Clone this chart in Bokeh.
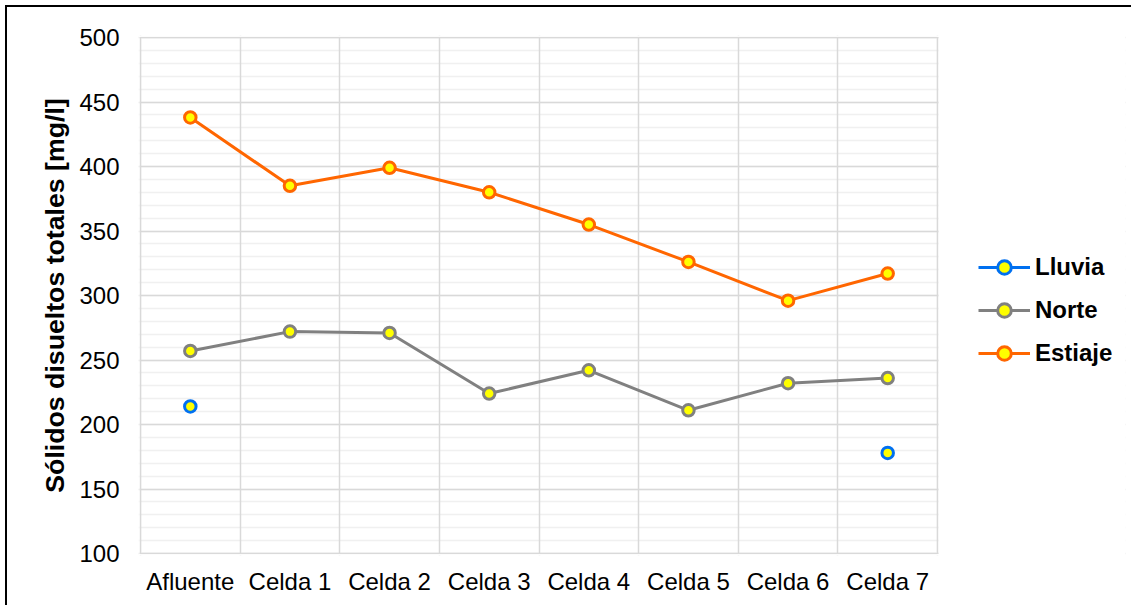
from bokeh.plotting import figure
from bokeh.models import (FixedTicker, Grid, Legend, LegendItem, ColumnDataSource, Range1d, BoxAnnotation)
from bokeh.embed import file_html
from bokeh.resources import INLINE

categories = ["Afluente", "Celda 1", "Celda 2", "Celda 3", "Celda 4", "Celda 5", "Celda 6", "Celda 7"]
estiaje = [438, 385, 399, 380, 355, 326, 296, 317]
norte = [257, 272, 271, 224, 242, 211, 232, 236]
lluvia = [214, None, None, None, None, None, None, 178]
y_ticks = [100, 150, 200, 250, 300, 350, 400, 450, 500]

n = len(categories)
xs = [i + 0.5 for i in range(n)]

OX, OY = 7, 7  # content origin on page
W, H = 1126, 600
FL, FR, FT, FB = 140, 937, 37, 553   # plot area (page px)
PAD = 2                               # frame extends a little so edge lines are not clipped
FRAME_RIGHT = 1125                    # drawing frame extends under the legend
ux = n / (FR - FL)
uy = 400 / (FB - FT)
x_start = -PAD * ux
x_end = n + (FRAME_RIGHT - FR) * ux
y0, y1 = 100 - PAD * uy, 500 + PAD * uy

p = figure(width=W, height=H, output_backend="svg", toolbar_location=None,
           x_range=Range1d(x_start, x_end), y_range=Range1d(y0, y1),
           min_border_left=FL - PAD - OX, min_border_top=FT - PAD - OY,
           min_border_bottom=H - (FB + PAD - OY), min_border_right=W - (FRAME_RIGHT - OX))
p.styles = {"margin-left": "5px", "margin-top": "5px",
            "border-left": "2px solid black", "border-top": "2px solid black"}
p.outline_line_color = None
p.background_fill_color = "white"
p.border_fill_color = "white"

# grids
p.xgrid.visible = False
p.ygrid.ticker = FixedTicker(ticks=y_ticks, minor_ticks=list(range(100, 501, 10)))
p.ygrid.grid_line_color = "#d9d9d9"
p.ygrid.grid_line_width = 1.5
p.ygrid.minor_grid_line_color = "#f0f0f0"
p.ygrid.minor_grid_line_width = 1.5
vgrid = Grid(dimension=0, ticker=FixedTicker(ticks=list(range(0, n + 1))),
             grid_line_color="#d9d9d9", grid_line_width=1.5)
p.add_layout(vgrid)
# hide grid lines outside the plot area
white = dict(fill_color="white", fill_alpha=1, line_color=None, level="underlay")
p.add_layout(BoxAnnotation(left=n + 0.01, **white))
p.add_layout(BoxAnnotation(right=-0.01, **white))
p.add_layout(BoxAnnotation(top=99.6, **white))
p.add_layout(BoxAnnotation(bottom=500.4, **white))
# plot area outline
p.add_layout(BoxAnnotation(left=0, right=n, bottom=100, top=500, fill_alpha=0,
                           line_color="#d9d9d9", line_width=1.5, level="underlay"))

# axes
p.xaxis.ticker = FixedTicker(ticks=xs)
p.xaxis.major_label_overrides = {x: c for x, c in zip(xs, categories)}
p.yaxis.ticker = FixedTicker(ticks=y_ticks)
for ax in (p.xaxis[0], p.yaxis[0]):
    ax.axis_line_color = None
    ax.major_tick_line_color = None
    ax.minor_tick_line_color = None
    ax.major_tick_out = 0
    ax.major_tick_in = 0
    ax.major_label_text_font = "Liberation Sans"
    ax.major_label_text_font_size = "24px"
    ax.major_label_text_color = "black"
p.xaxis.major_label_standoff = 12
p.yaxis.major_label_standoff = 19
p.yaxis.axis_label = "Sólidos disueltos totales [mg/l]"
p.yaxis.axis_label_text_font = "Liberation Sans"
p.yaxis.axis_label_text_font_size = "26.7px"
p.yaxis.axis_label_text_font_style = "bold"
p.yaxis.axis_label_text_color = "black"
p.yaxis.axis_label_standoff = 6

series = [("Lluvia", lluvia, "#0070F0"), ("Norte", norte, "#808080"), ("Estiaje", estiaje, "#FF6600")]
items = []
for name, vals, col in series:
    ys = [float("nan") if v is None else v for v in vals]
    src = ColumnDataSource(dict(x=xs, y=ys))
    l = p.line("x", "y", source=src, line_color=col, line_width=3)
    c = p.scatter("x", "y", source=src, size=11.5, fill_color="#FFFF00", line_color=col, line_width=3)
    items.append(LegendItem(label=name, renderers=[l, c]))

GH = 34
legend = Legend(items=items, location=(978 - (FL - PAD), (FB + PAD) - (353 + GH // 2)),
                orientation="vertical",
                label_text_font="Liberation Sans", label_text_font_size="24px",
                label_text_font_style="bold", label_text_color="black",
                glyph_width=52, glyph_height=GH, spacing=9, label_standoff=5,
                border_line_color=None, background_fill_alpha=0, padding=0, margin=0)
p.add_layout(legend)

open("out.html", "w").write(file_html(p, INLINE))
